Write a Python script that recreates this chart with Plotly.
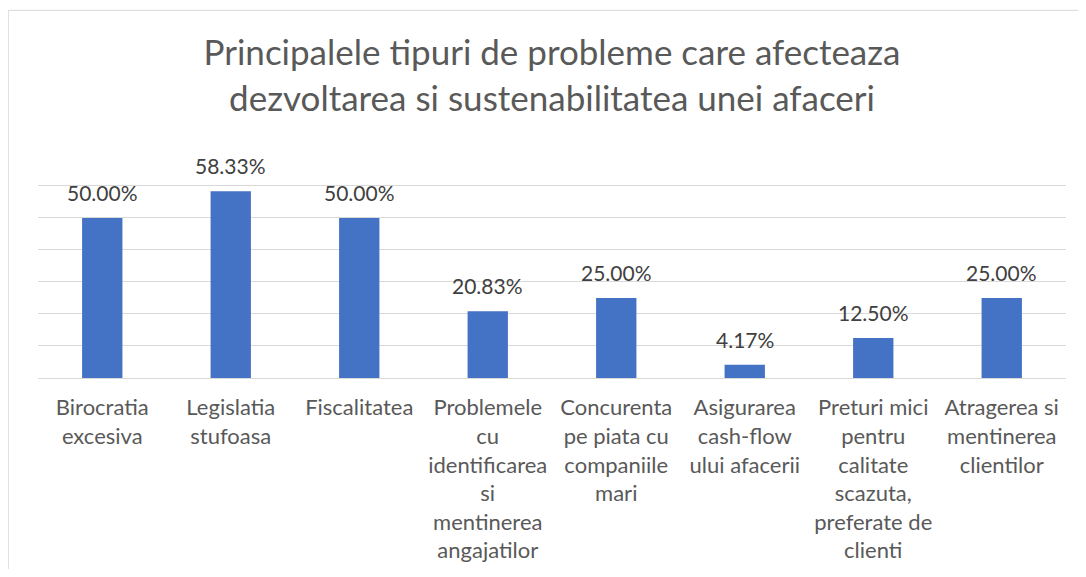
import plotly.graph_objects as go

# chart data
categories = [
    "Birocratia<br>excesiva",
    "Legislatia<br>stufoasa",
    "Fiscalitatea",
    "Problemele<br>cu<br>identificarea<br>si<br>mentinerea<br>angajatilor",
    "Concurenta<br>pe piata cu<br>companiile<br>mari",
    "Asigurarea<br>cash-flow<br>ului afacerii",
    "Preturi mici<br>pentru<br>calitate<br>scazuta,<br>preferate de<br>clienti",
    "Atragerea si<br>mentinerea<br>clientilor",
]
shares = [0.5000, 0.5833, 0.5000, 0.2083, 0.2500, 0.0417, 0.1250, 0.2500]
title_text = ("Principalele tipuri de probleme care afecteaza<br>"
              "dezvoltarea si sustenabilitatea unei afaceri")

FONT = "Lato"
BAR_COLOR = "#4472C4"
GRID = "#d9d9d9"

fig = go.Figure()
fig.add_trace(go.Bar(
    x=categories,
    y=shares,
    marker=dict(color=BAR_COLOR, line=dict(width=0)),
    hovertemplate="%{y:.2%}<extra></extra>",
))

# data labels above the bars
for cat, val in zip(categories, shares):
    fig.add_annotation(
        x=cat, y=val, text=f"{val * 100:.2f}%",
        showarrow=False, yanchor="bottom", yshift=11,
        font=dict(family=FONT, size=21, color="#404040"),
    )

# chart border (light frame around the chart area)
fig.add_shape(
    type="rect", xref="paper", yref="paper",
    x0=-0.0289, x1=1.2, y0=-2, y1=1.634,
    line=dict(color=GRID, width=1), layer="below",
)

# page body has an 8px margin, so the figure is a bit smaller than the window
fig.update_layout(
    width=1070,
    height=561,
    margin=dict(l=30, r=12, t=145, b=191),
    paper_bgcolor="white",
    plot_bgcolor="white",
    bargap=0.686,
    showlegend=False,
    title=dict(
        text=title_text,
        x=0.5, xref="paper",
        y=0.898, yref="container", yanchor="top",
        font=dict(family=FONT, size=35, color="#595959"),
    ),
    font=dict(family=FONT, color="#595959"),
)
fig.update_xaxes(
    tickfont=dict(family=FONT, size=22, color="#595959"),
    ticks="outside", ticklen=10, tickcolor="rgba(0,0,0,0)",
    showline=False, showgrid=False, automargin=False,
)
# upper limit slightly above 0.7 so the 70% gridline is not clipped at the edge
fig.update_yaxes(
    range=[0, 0.703], dtick=0.1,
    showticklabels=False, automargin=False,
    showgrid=True, gridcolor=GRID, gridwidth=1,
    zeroline=True, zerolinecolor=GRID, zerolinewidth=1,
)

fig.write_html("out.html")
